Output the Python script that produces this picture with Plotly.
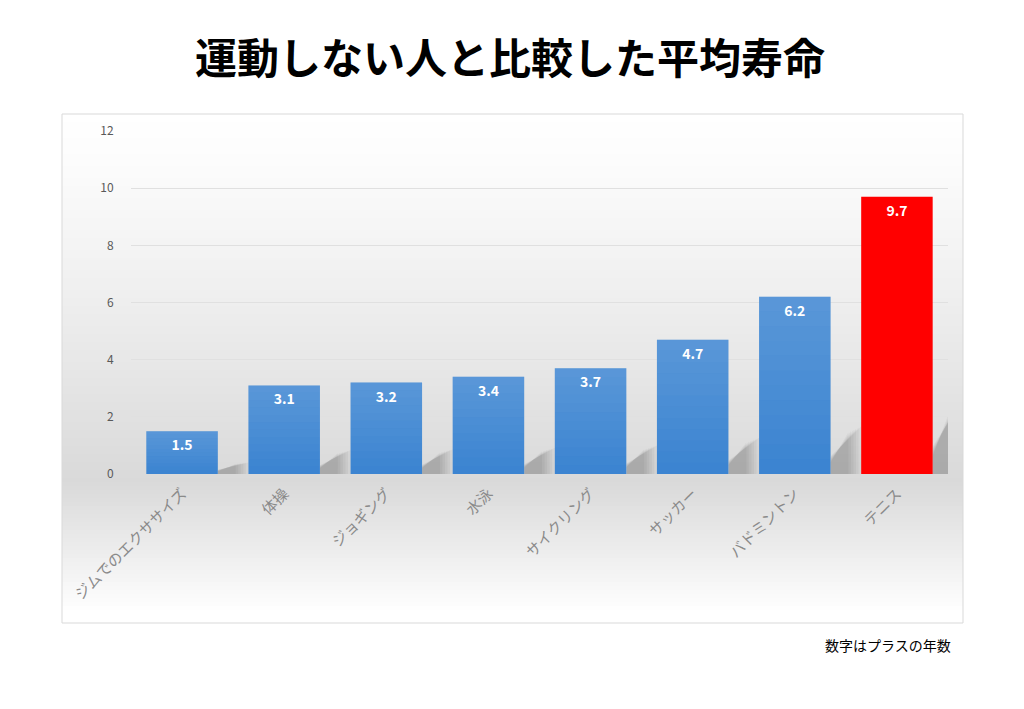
import plotly.graph_objects as go

# data
sports = ["ジムでのエクササイズ", "体操", "ジョギング", "水泳", "サイクリング", "サッカー", "バドミントン", "テニス"]
years = [1.5, 3.1, 3.2, 3.4, 3.7, 4.7, 6.2, 9.7]
bar_colors = ["#3b84d1"] * 7 + ["#ff0000"]
y_ticks = [0, 2, 4, 6, 8, 10, 12]

# the page puts an 8px body margin around the figure
OFF = 8
W, H = 1024 - 2 * OFF, 709 - 2 * OFF


def px_x(p):
    return (p - OFF) / W


def px_y(p):
    return 1 - (p - OFF) / H


shapes = []

# chart background gradient (white -> gray at the axis -> white)
box_l, box_r, box_t, box_b = 62, 963, 114, 623
mid = 482
step = 4
y = box_t
while y < box_b:
    yc = y + step / 2
    if yc < mid:
        f = ((yc - box_t) / (mid - box_t)) ** 1.2
    else:
        f = 1 - (yc - mid) / (box_b - 10 - mid)
    f = max(0, min(1, f))
    g = int(round(255 - f * (255 - 217)))
    shapes.append(dict(
        type="rect", xref="paper", yref="paper", layer="below",
        x0=px_x(box_l), x1=px_x(box_r), y0=px_y(min(y + step, box_b)), y1=px_y(y),
        fillcolor=f"rgb({g},{g},{g})", line=dict(width=0),
    ))
    y += step

# chart border
shapes.append(dict(
    type="rect", xref="paper", yref="paper", layer="below",
    x0=px_x(box_l), x1=px_x(box_r), y0=px_y(box_b), y1=px_y(box_t),
    fillcolor="rgba(0,0,0,0)", line=dict(color="#d9d9d9", width=1),
))

# soft shadows behind the bars
for i, v in enumerate(years):
    xr = i + 0.35
    for n in range(6):
        dx = 0.025 * n
        dy = 0.035 * v * n / 5
        shapes.append(dict(
            type="path", xref="x", yref="y", layer="below",
            path=(f"M {xr},0 L {xr},{0.1 * v - dy} "
                  f"L {xr + 0.3 - dx},{0.27 * v - dy} L {xr + 0.3 - dx},0 Z"),
            fillcolor="rgba(0,0,0,0.04)", line=dict(width=0),
        ))

# light sheen on the blue bars (lighter towards the top)
n_strips = 12
for i, v in enumerate(years):
    if bar_colors[i] == "#ff0000":
        continue
    for j in range(n_strips):
        shapes.append(dict(
            type="rect", xref="x", yref="y", layer="above",
            x0=i - 0.35, x1=i + 0.35, y0=v * j / n_strips, y1=v * (j + 1) / n_strips,
            fillcolor=f"rgba(255,255,255,{0.16 * (j + 0.5) / n_strips:.3f})",
            line=dict(width=0),
        ))

fig = go.Figure()
fig.add_trace(go.Bar(
    x=sports, y=years,
    marker=dict(color=bar_colors, line=dict(width=0)),
    width=0.7,
    text=[f"<b>{v:.1f}</b>" for v in years],
    textposition="inside",
    insidetextanchor="end",
    textangle=0,
    textfont=dict(color="white", size=14, family="Noto Sans CJK JP"),
    hoverinfo="x+y",
))

fig.update_layout(
    width=W, height=H,
    margin=dict(l=0, r=0, t=0, b=0),
    paper_bgcolor="white",
    plot_bgcolor="rgba(0,0,0,0)",
    showlegend=False,
    font=dict(family="Noto Sans CJK JP"),
    shapes=shapes,
    xaxis=dict(
        domain=[px_x(131), px_x(948)],
        range=[-0.5, 7.5],
        tickangle=-45,
        tickfont=dict(size=15, color="#8a8a8a"),
        showgrid=False, showline=False, zeroline=False,
        ticks="outside", ticklen=4, tickcolor="rgba(0,0,0,0)",
        automargin=False,
    ),
    yaxis=dict(
        domain=[px_y(474), px_y(131)],
        range=[0, 12],
        tickvals=y_ticks,
        tickfont=dict(size=12, color="#595959"),
        showgrid=True, gridcolor="#e0e0e0", gridwidth=1,
        zeroline=False, showline=False,
        ticks="outside", ticklen=14, tickcolor="rgba(0,0,0,0)",
        automargin=False,
    ),
    annotations=[
        dict(
            text="<b>運動しない人と比較した平均寿命</b>",
            xref="paper", yref="paper", x=px_x(510), y=px_y(56),
            xanchor="center", yanchor="middle", showarrow=False,
            font=dict(size=42, color="black", family="Noto Sans CJK JP"),
        ),
        dict(
            text="数字はプラスの年数",
            xref="paper", yref="paper", x=px_x(953), y=px_y(645),
            xanchor="right", yanchor="middle", showarrow=False,
            font=dict(size=14, color="black", family="Noto Sans CJK JP"),
        ),
    ],
)

fig.write_html("out.html")
